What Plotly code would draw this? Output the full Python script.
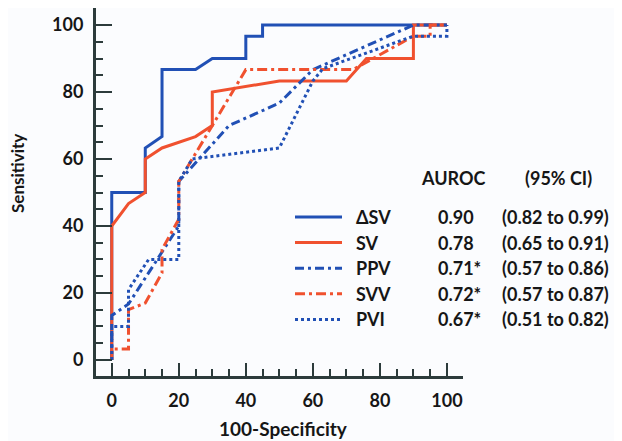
import plotly.graph_objects as go

# ---------------- data ----------------
names = ["ΔSV", "SV", "PPV", "SVV", "PVI"]
auroc = ["0.90", "0.78", "0.71*", "0.72*", "0.67*"]
ci = ["(0.82 to 0.99)", "(0.65 to 0.91)", "(0.57 to 0.86)", "(0.57 to 0.87)", "(0.51 to 0.82)"]

x_dsv = [0, 0, 10, 10, 15, 15, 25, 30, 40, 40, 45, 45, 100]
y_dsv = [0, 50, 50, 63.3, 66.7, 86.7, 86.7, 90, 90, 96.7, 96.7, 100, 100]

x_sv = [0, 0, 5, 10, 10, 15, 25, 30, 30, 50, 70, 76, 90, 90, 100]
y_sv = [0, 40, 46.7, 50, 60, 63.3, 66.7, 70, 80, 83.3, 83.3, 90, 90, 100, 100]

x_ppv = [0, 0, 5, 20, 20, 35, 50, 60, 90, 100]
y_ppv = [0, 13.3, 16.7, 40, 53.3, 70, 76.7, 86.7, 100, 100]

x_svv = [0, 0, 5, 5, 10, 15, 15, 20, 20, 40, 72, 90, 95, 95, 100]
y_svv = [0, 3.3, 3.3, 15, 17, 26, 33, 42, 53.3, 86.7, 86.7, 96.7, 96.7, 100, 100]

x_pvi = [0, 0, 5, 5, 11, 20, 20, 24, 50, 60, 63, 90, 100, 100]
y_pvi = [0, 10, 10, 21, 30, 30, 53.3, 60, 63.3, 83.3, 87, 96.7, 96.7, 100]

xs = [x_dsv, x_sv, x_ppv, x_svv, x_pvi]
ys = [y_dsv, y_sv, y_ppv, y_svv, y_pvi]

# ---------------- styles ----------------
BLUE = "#2150b5"
RED = "#f0512f"
TXT = "#161616"
AX = "#2c3b3b"
BG = "#fbfcfe"
FONT = "Lato"
colors = [BLUE, RED, BLUE, RED, BLUE]
dashes = ["solid", "solid", "9px,4px,3px,4px", "10px,4px,3px,4px", "3px,3px"]

OFF = 8  # page body margin
W, H = 622 - OFF, 441 - OFF
L, R, T, B = 96 - OFF, 463 - OFF, 8 - OFF, 376 - OFF


def px2paper(px, py):
    # px, py: page pixel positions
    px -= OFF
    py -= OFF
    return (px - L) / (R - L), (B - py) / (B - T)


fig = go.Figure()
for x, y, c, d, n in zip(xs, ys, colors, dashes, names):
    fig.add_trace(go.Scatter(x=x, y=y, mode="lines", name=n, showlegend=False,
                             line=dict(color=c, width=3, dash=d)))

axis_common = dict(
    showgrid=False, zeroline=False, showline=True, linewidth=3, linecolor=AX,
    ticks="inside", tickwidth=2, tickcolor=AX, tick0=0, dtick=20,
    tickfont=dict(family=FONT, size=18, color=TXT, weight="bold"),
    minor=dict(ticks="inside", ticklen=7, tickwidth=2, tickcolor=AX, dtick=5, tick0=0, showgrid=False),
)
fig.update_xaxes(range=[-4.7, 104.8], ticklen=13, ticklabelstandoff=6, **axis_common)
fig.update_yaxes(range=[-4.8, 105.1], ticklen=16, ticklabelstandoff=6, **axis_common)

annotations = []
shapes = []

# axis titles
ax_, ay_ = px2paper(17, 174)
annotations.append(dict(text="Sensitivity", xref="paper", yref="paper", x=ax_, y=ay_,
                        textangle=-90, showarrow=False, xanchor="center", yanchor="middle",
                        font=dict(family=FONT, size=17, color=TXT, weight="bold")))
ax_, ay_ = px2paper(283, 428)
annotations.append(dict(text="100-Specificity", xref="paper", yref="paper", x=ax_, y=ay_,
                        showarrow=False, xanchor="center", yanchor="middle",
                        font=dict(family=FONT, size=19, color=TXT, weight="bold")))

# legend table
tfont = dict(family=FONT, size=18, color=TXT, weight="bold")
hx, hy = px2paper(453, 178)
annotations.append(dict(text="AUROC", xref="paper", yref="paper", x=hx, y=hy, showarrow=False,
                        xanchor="center", yanchor="middle", font=tfont))
hx, hy = px2paper(558, 178)
annotations.append(dict(text="(95% CI)", xref="paper", yref="paper", x=hx, y=hy, showarrow=False,
                        xanchor="center", yanchor="middle", font=tfont))

row_y0, row_dy = 217, 25.6
for i, (n, a, cc, c, d) in enumerate(zip(names, auroc, ci, colors, dashes)):
    py = row_y0 + i * row_dy
    x0, yy = px2paper(295, py)
    x1, _ = px2paper(342, py)
    shapes.append(dict(type="line", xref="paper", yref="paper", x0=x0, x1=x1, y0=yy, y1=yy,
                       line=dict(color=c, width=3, dash=d)))
    lx, _ = px2paper(354, py)
    annotations.append(dict(text=n, xref="paper", yref="paper", x=lx, y=yy, showarrow=False,
                            xanchor="left", yanchor="middle", font=tfont))
    vx, _ = px2paper(436, py)
    annotations.append(dict(text=a, xref="paper", yref="paper", x=vx, y=yy, showarrow=False,
                            xanchor="left", yanchor="middle", font=tfont))
    cx, _ = px2paper(500, py)
    annotations.append(dict(text=cc, xref="paper", yref="paper", x=cx, y=yy, showarrow=False,
                            xanchor="left", yanchor="middle", font=tfont))

fig.update_layout(
    width=W, height=H,
    margin=dict(l=L, r=W - R, t=T, b=H - B, pad=0),
    paper_bgcolor=BG, plot_bgcolor=BG,
    showlegend=False,
    annotations=annotations, shapes=shapes,
    font=dict(family=FONT, color=TXT),
)

fig.write_html("out.html")
